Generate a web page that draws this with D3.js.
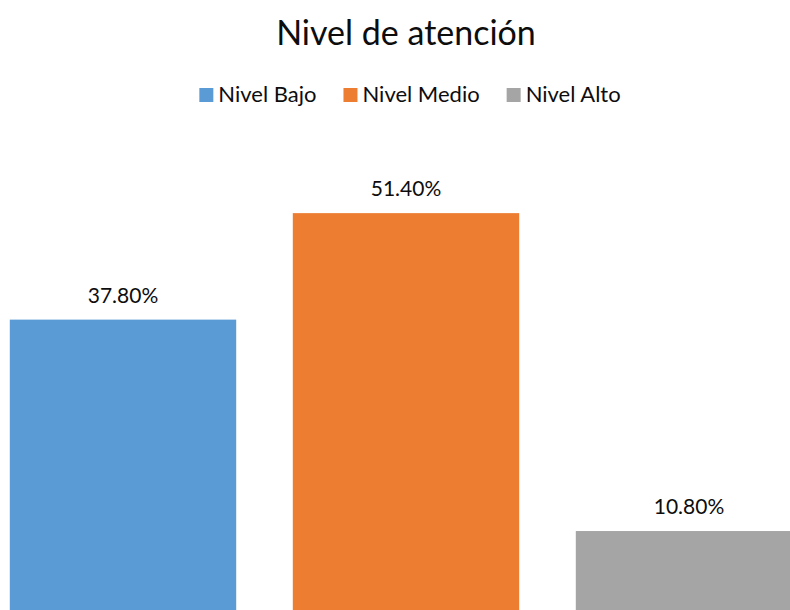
<!DOCTYPE html>
<html>
<head>
<meta charset="utf-8">
<script src="https://cdn.jsdelivr.net/npm/d3@7"></script>
<style>
  body { margin: 0; background: #fff; }
  svg { display: block; }
  text { font-family: Lato, "Open Sans", sans-serif; fill: #0d0d0d; }
</style>
</head>
<body>
<div id="chart"></div>
<script>
var categories = ["Nivel Bajo", "Nivel Medio", "Nivel Alto"];
var values = [37.8, 51.4, 10.8];
var colors = ["#5B9BD5", "#ED7D31", "#A5A5A5"];
var chartTitle = "Nivel de atención";

var w = 790, h = 610;

var svg = d3.select("#chart")
  .append("svg")
  .attr("width", w)
  .attr("height", h);

// band scale runs a bit past the right edge, like the original (last bar is cut off)
var x = d3.scaleBand()
  .domain(categories)
  .range([-18.5, 830.5])
  .paddingInner(0.2)
  .paddingOuter(0.1);

var y = d3.scaleLinear()
  .domain([0, 60])
  .range([615.6, 145.8]);

// bars
svg.selectAll(".bar")
  .data(values)
  .enter()
  .append("rect")
  .attr("class", "bar")
  .attr("x", function(d, i){ return x(categories[i]); })
  .attr("y", function(d){ return y(d); })
  .attr("width", x.bandwidth())
  .attr("height", function(d){ return y(0) - y(d); })
  .style("fill", function(d, i){ return colors[i]; });

// data labels
svg.selectAll(".valueLabel")
  .data(values)
  .enter()
  .append("text")
  .attr("class", "valueLabel")
  .attr("x", function(d, i){ return x(categories[i]) + x.bandwidth()/2; })
  .attr("y", function(d){ return y(d) - 17; })
  .attr("text-anchor", "middle")
  .style("font-size", "21px")
  .text(function(d){ return d.toFixed(2) + "%"; });

// title
svg.append("text")
  .attr("class", "title")
  .attr("x", 406)
  .attr("y", 45)
  .attr("text-anchor", "middle")
  .style("font-size", "34px")
  .text(chartTitle);

// legend
var legend = svg.append("g").attr("class", "legend");
var items = legend.selectAll(".item")
  .data(categories)
  .enter()
  .append("g")
  .attr("class", "item");

items.append("rect")
  .attr("width", 14)
  .attr("height", 14)
  .attr("y", 88)
  .style("fill", function(d, i){ return colors[i]; });

items.append("text")
  .attr("x", 19)
  .attr("y", 102)
  .style("font-size", "22px")
  .text(String);

// place legend items next to each other, centred
var gap = 27, pos = 0, offsets = [];
items.each(function(){
  offsets.push(pos);
  pos += 19 + this.querySelector("text").getComputedTextLength() + gap;
});
var total = pos - gap;
var startX = 410 - total/2;
items.attr("transform", function(d, i){ return "translate(" + (startX + offsets[i]) + ",0)"; });
</script>
</body>
</html>
